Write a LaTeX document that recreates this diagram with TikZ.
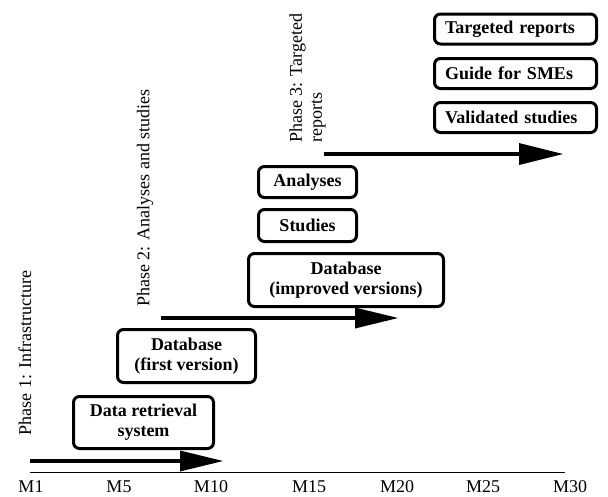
\documentclass[tikz,border=0pt]{standalone}
\usepackage{fontspec}
\setmainfont{Liberation Serif}
\usetikzlibrary{calc}
\begin{document}
\begin{tikzpicture}[x=1pt,y=-1pt,
  every node/.style={font=\fontsize{18}{20}\selectfont},
  box/.style={draw,line width=3pt,rounded corners=6pt,font=\fontsize{18}{20}\selectfont\bfseries,align=center,inner sep=0pt},
  rbox/.style={box,align=left,minimum width=162pt,minimum height=30pt,text width=141pt},
  phase/.style={rotate=90,inner sep=0pt,align=left},
  tl/.style={line width=4pt},
  axis/.style={line width=1pt},
  mlab/.style={inner sep=0pt}]
\useasboundingbox (0,0) rectangle (608,496);

% axis
\coordinate (ax0) at (30,472);
\coordinate (ax1) at (565,472);
\draw[axis] (ax0) -- (ax1);
\node[mlab] (m1) at (31,487) {M1};
\node[mlab] (m5) at (119,487) {M5};
\node[mlab] (m10) at (211,487) {M10};
\node[mlab] (m15) at (309,487) {M15};
\node[mlab] (m20) at (397,487) {M20};
\node[mlab] (m25) at (483,487) {M25};
\node[mlab] (m30) at (570,487) {M30};

% timeline arrows
\coordinate (a1s) at (30,461);
\coordinate (a1b) at (182,461);
\coordinate (a1e) at (223,461);
\draw[tl] (a1s) -- (a1b);
\fill ($(a1b)+(-2,-10.5)$) -- (a1e) -- ($(a1b)+(-2,10.5)$) -- cycle;

\coordinate (a2s) at (161,318);
\coordinate (a2b) at (357,318);
\coordinate (a2e) at (398,318);
\draw[tl] (a2s) -- (a2b);
\fill ($(a2b)+(-2,-10.5)$) -- (a2e) -- ($(a2b)+(-2,10.5)$) -- cycle;

\coordinate (a3s) at (324,154);
\coordinate (a3b) at (521,154);
\coordinate (a3e) at (563,154);
\draw[tl] (a3s) -- (a3b);
\fill ($(a3b)+(-2,-11)$) -- (a3e) -- ($(a3b)+(-2,11)$) -- cycle;

% phase labels
\node[phase] (p1) at (25,353) {Phase 1: Infrastructure};
\node[phase,anchor=west] (p2) at (145,307) {Phase 2: Analyses and studies};
\node[phase,anchor=west] (p3) at (307.5,143) {Phase 3: Targeted\\reports};

% boxes
\node[box,minimum width=140pt,minimum height=52pt] (dr) at (143.5,422.5) {Data retrieval\\system};
\node[box,minimum width=138pt,minimum height=53pt] (db1) at (186.5,356) {Database\\(first version)};
\node[box,minimum width=195pt,minimum height=53pt] (db2) at (346,280) {Database\\(improved versions)};
\node[box,minimum width=98pt,minimum height=32pt] (st) at (307.5,225.5) {Studies};
\node[box,minimum width=98pt,minimum height=31pt] (an) at (307.5,182) {Analyses};
\node[rbox] (tr) at (515.5,29) {Targeted reports};
\node[rbox] (gs) at (515.5,73.5) {Guide for SMEs};
\node[rbox] (vs) at (515.5,117.5) {Validated studies};
\end{tikzpicture}
\end{document}
